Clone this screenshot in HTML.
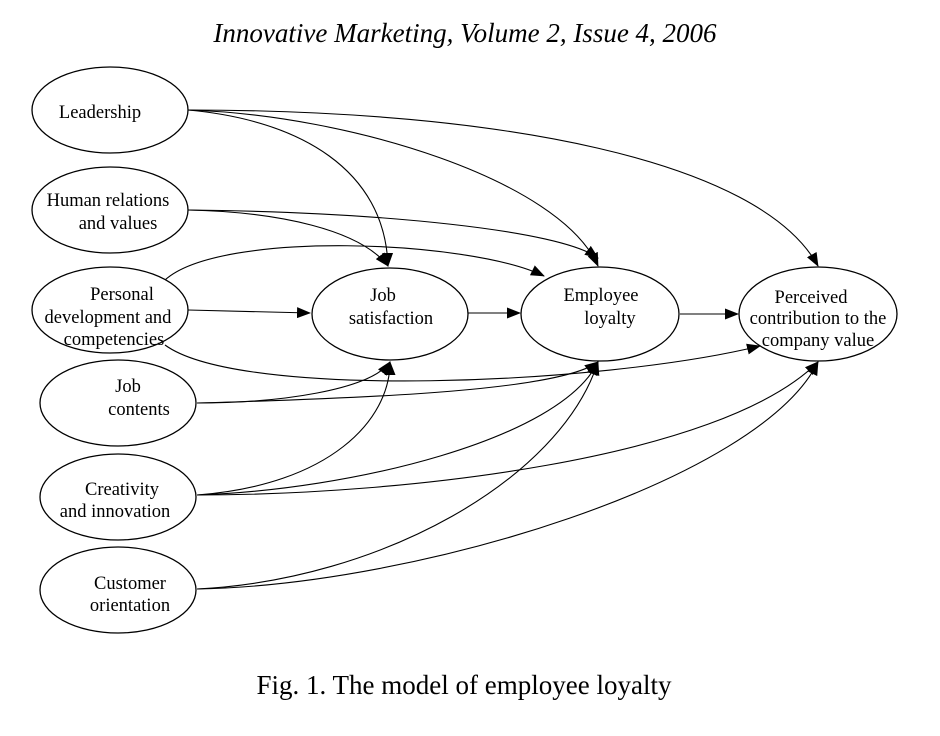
<!DOCTYPE html>
<html><head><meta charset="utf-8"><style>
body{margin:0;background:#fff;}
svg{display:block}
text{font-family:"Liberation Serif",serif;fill:#000}
</style></head><body>
<svg width="940" height="736" viewBox="0 0 940 736" xmlns="http://www.w3.org/2000/svg">
<defs><marker id="a" markerWidth="14" markerHeight="11" refX="13" refY="5.5" orient="auto" markerUnits="userSpaceOnUse"><path d="M0,0 L14,5.5 L0,11 z" fill="#000"/></marker></defs>
<text x="465" y="42" font-size="27" font-style="italic" text-anchor="middle">Innovative Marketing, Volume 2, Issue 4, 2006</text>
<g fill="none" stroke="#000" stroke-width="1.3">
<ellipse cx="110" cy="110" rx="78" ry="43"/>
<ellipse cx="110" cy="210" rx="78" ry="43"/>
<ellipse cx="110" cy="310" rx="78" ry="43"/>
<ellipse cx="118" cy="403" rx="78" ry="43"/>
<ellipse cx="118" cy="497" rx="78" ry="43"/>
<ellipse cx="118" cy="590" rx="78" ry="43"/>
<ellipse cx="390" cy="314" rx="78" ry="46"/>
<ellipse cx="600" cy="314" rx="79" ry="47"/>
<ellipse cx="818" cy="314" rx="79" ry="47"/>
</g>
<g fill="none" stroke="#000" stroke-width="1.1" marker-end="url(#a)">
<path d="M188,110 C300,120 385,170 388,266"/>
<path d="M188,110 C350,115 560,180 598,266"/>
<path d="M188,110 C500,110 760,160 818,266"/>
<path d="M188,210 C280,212 360,230 388,266"/>
<path d="M188,210 C380,212 560,230 598,258"/>
<path d="M165,280 C220,230 470,240 544,276"/>
<path d="M188,310 L310,313"/>
<path d="M468,313 L520,313"/>
<path d="M680,314 L738,314"/>
<path d="M165,345 C240,400 600,385 760,346"/>
<path d="M197,403 C280,403 370,390 390,362"/>
<path d="M197,403 C380,398 560,390 598,362"/>
<path d="M197,495 C330,485 390,420 390,362"/>
<path d="M197,495 C350,490 560,440 598,362"/>
<path d="M197,495 C400,495 720,460 818,362"/>
<path d="M197,589 C380,580 560,480 598,362"/>
<path d="M197,589 C420,585 760,480 818,362"/>
</g>
<g font-size="18.5" text-anchor="middle">
<text x="100" y="118">Leadership</text>
<text x="108" y="206">Human relations</text>
<text x="118" y="229">and values</text>
<text x="122" y="300">Personal</text>
<text x="108" y="323">development and</text>
<text x="114" y="345">competencies</text>
<text x="128" y="392">Job</text>
<text x="139" y="415">contents</text>
<text x="122" y="495">Creativity</text>
<text x="115" y="517">and innovation</text>
<text x="130" y="589">Customer</text>
<text x="130" y="611">orientation</text>
<text x="383" y="301">Job</text>
<text x="391" y="324">satisfaction</text>
<text x="601" y="301">Employee</text>
<text x="610" y="324">loyalty</text>
<text x="811" y="303">Perceived</text>
<text x="818" y="324">contribution to the</text>
<text x="818" y="346">company value</text>
</g>
<text x="464" y="694" font-size="27" text-anchor="middle">Fig. 1. The model of employee loyalty</text>
</svg>
</body></html>
